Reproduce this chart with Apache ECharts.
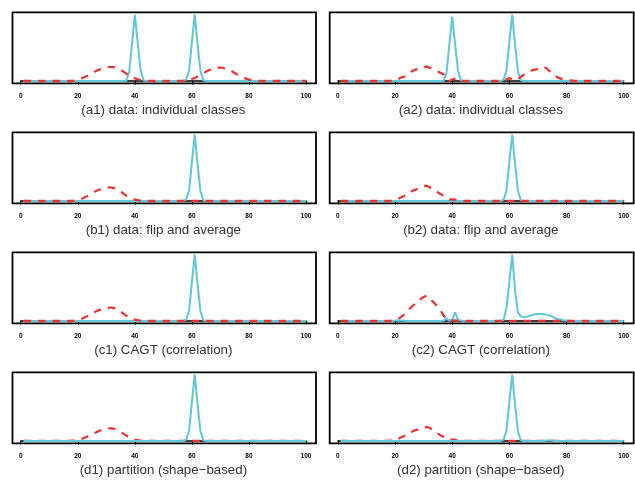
<!DOCTYPE html>
<html><head><meta charset="utf-8">
<script src="https://cdn.jsdelivr.net/npm/echarts@6/dist/echarts.min.js"></script>
<style>html,body{margin:0;padding:0;background:#fff}#c{width:635px;height:480px}</style>
</head><body><div id="c"></div>
<script>
const xTicks = [0, 20, 40, 60, 80, 100];
const titles = [
  '(a1) data: individual classes', '(a2) data: individual classes',
  '(b1) data: flip and average', '(b2) data: flip and average',
  '(c1) CAGT (correlation)', '(c2) CAGT (correlation)',
  '(d1) partition (shape\u2212based)', '(d2) partition (shape\u2212based)'
];

// cyan (solid) series, [x, value]
const a1Cyan = [[1,0],[37,0],[38,0.13],[39,0.55],[40,1],[41,0.58],[42,0.17],[43,0.01],[44,0],[57,0],[58,0.02],[59,0.15],[60,0.58],[61,1],[62,0.55],[63,0.15],[64,0.01],[65,0],[100,0]];
const a2Cyan = [[1,0],[37,0],[38,0.12],[39,0.55],[40,0.97],[41,0.56],[42,0.16],[43,0.01],[44,0],[57,0],[58,0.02],[59,0.16],[60,0.6],[61,1],[62,0.55],[63,0.14],[64,0.01],[65,0],[100,0]];
const b1Cyan = [[1,0],[57,0],[58,0.02],[59,0.15],[60,0.58],[61,1],[62,0.55],[63,0.15],[64,0.01],[65,0],[100,0]];
const b2Cyan = [[1,0],[57,0],[58,0.02],[59,0.16],[60,0.6],[61,1],[62,0.56],[63,0.15],[64,0.01],[65,0],[100,0]];
const c1Cyan = [[1,0],[57,0],[58,0.02],[59,0.15],[60,0.58],[61,1],[62,0.55],[63,0.15],[64,0.01],[65,0],[100,0]];
const c2Cyan = [[1,0],[19,0],[20,0.005],[21,0.01],[22,0.008],[23,0.004],[24,0],[36,0],[37,0.005],[38,0.035],[39,0.005],[40,0.02],[41,0.13],[42,0.02],[43,0.005],[44,0],[57,0],[58,0.02],[59,0.2],[60,0.6],[61,1],[62,0.45],[63,0.12],[64,0.07],[65,0.055],[66,0.06],[67,0.075],[68,0.09],[69,0.1],[70,0.105],[71,0.105],[72,0.1],[73,0.095],[74,0.085],[75,0.065],[76,0.04],[77,0.025],[78,0.02],[79,0.01],[80,0.005],[81,0],[100,0]];
const d1Cyan = [[1,0],[57,0],[58,0.02],[59,0.15],[60,0.58],[61,1],[62,0.55],[63,0.15],[64,0.01],[65,0],[100,0]];
const d2Cyan = [[1,0],[57,0],[58,0.02],[59,0.16],[60,0.6],[61,1],[62,0.55],[63,0.14],[64,0.01],[65,0],[72,0],[73,0.005],[74,0.01],[75,0.005],[76,0],[100,0]];

// red (dashed) series, [x, value]
const a1Red = [[1,0],[18,0],[19,0.005],[20,0.015],[21,0.03],[22,0.05],[23,0.07],[24,0.09],[25,0.12],[26,0.14],[27,0.16],[28,0.18],[29,0.195],[30,0.205],[31,0.21],[32,0.21],[33,0.205],[34,0.19],[35,0.17],[36,0.14],[37,0.11],[38,0.08],[39,0.06],[40,0.04],[41,0.025],[42,0.015],[43,0.008],[44,0.003],[45,0],[56,0],[57,0.003],[58,0.008],[59,0.015],[60,0.03],[61,0.045],[62,0.065],[63,0.09],[64,0.115],[65,0.14],[66,0.16],[67,0.18],[68,0.195],[69,0.2],[70,0.2],[71,0.195],[72,0.18],[73,0.165],[74,0.145],[75,0.12],[76,0.095],[77,0.07],[78,0.05],[79,0.035],[80,0.02],[81,0.012],[82,0.005],[83,0],[100,0]];
const a2Red = [[1,0],[19,0],[20,0.005],[21,0.02],[22,0.05],[23,0.06],[24,0.08],[25,0.11],[26,0.15],[27,0.17],[28,0.18],[29,0.2],[30,0.21],[31,0.215],[32,0.2],[33,0.18],[34,0.16],[35,0.14],[36,0.12],[37,0.1],[38,0.03],[39,0],[40,0.02],[41,0.03],[42,0.01],[43,0],[58,0],[59,0.02],[60,0.045],[61,0.02],[62,0.01],[63,0.03],[64,0.06],[65,0.09],[66,0.12],[67,0.14],[68,0.16],[69,0.17],[70,0.18],[71,0.2],[72,0.21],[73,0.19],[74,0.15],[75,0.11],[76,0.08],[77,0.05],[78,0.035],[79,0.025],[80,0.015],[81,0.01],[82,0.005],[83,0],[100,0]];
const b1Red = [[1,0],[18,0],[19,0.005],[20,0.012],[21,0.025],[22,0.045],[23,0.065],[24,0.09],[25,0.115],[26,0.14],[27,0.16],[28,0.175],[29,0.19],[30,0.2],[31,0.205],[32,0.2],[33,0.19],[34,0.17],[35,0.15],[36,0.11],[37,0.08],[38,0.055],[39,0.035],[40,0.02],[41,0.012],[42,0.006],[43,0.002],[44,0],[100,0]];
const b2Red = [[1,0],[19,0],[20,0.005],[21,0.03],[22,0.05],[23,0.07],[24,0.09],[25,0.12],[26,0.15],[27,0.17],[28,0.18],[29,0.2],[30,0.22],[31,0.23],[32,0.21],[33,0.18],[34,0.155],[35,0.13],[36,0.1],[37,0.08],[38,0.04],[39,0.02],[40,0.025],[41,0.02],[42,0.005],[43,0],[100,0]];
const c1Red = [[1,0],[18,0],[19,0.005],[20,0.012],[21,0.025],[22,0.045],[23,0.065],[24,0.085],[25,0.11],[26,0.135],[27,0.155],[28,0.17],[29,0.185],[30,0.195],[31,0.2],[32,0.2],[33,0.19],[34,0.17],[35,0.145],[36,0.11],[37,0.08],[38,0.055],[39,0.035],[40,0.02],[41,0.012],[42,0.006],[43,0.002],[44,0],[100,0]];
const c2Red = [[1,0],[18,0],[19,0.005],[20,0.01],[21,0.03],[22,0.055],[23,0.09],[24,0.13],[25,0.18],[26,0.22],[27,0.26],[28,0.3],[29,0.33],[30,0.36],[31,0.38],[32,0.35],[33,0.3],[34,0.26],[35,0.21],[36,0.15],[37,0.08],[38,0.03],[39,0.01],[40,0.005],[41,0.01],[42,0],[100,0]];
const d1Red = [[1,0],[17,0],[18,0.005],[19,0.008],[20,0.012],[21,0.025],[22,0.04],[23,0.06],[24,0.08],[25,0.1],[26,0.12],[27,0.14],[28,0.16],[29,0.175],[30,0.185],[31,0.19],[32,0.19],[33,0.18],[34,0.16],[35,0.135],[36,0.11],[37,0.08],[38,0.055],[39,0.035],[40,0.02],[41,0.012],[42,0.006],[43,0.002],[44,0],[100,0]];
const d2Red = [[1,0],[17,0],[18,0.005],[19,0.005],[20,0.01],[21,0.03],[22,0.05],[23,0.07],[24,0.09],[25,0.11],[26,0.14],[27,0.16],[28,0.17],[29,0.19],[30,0.2],[31,0.21],[32,0.2],[33,0.17],[34,0.14],[35,0.11],[36,0.08],[37,0.06],[38,0.03],[39,0.015],[40,0.02],[41,0.015],[42,0.005],[43,0],[100,0]];

const panels = [
  {cyan: a1Cyan, red: a1Red, redOnTop: true},
  {cyan: a2Cyan, red: a2Red, redOnTop: true},
  {cyan: b1Cyan, red: b1Red, redOnTop: true},
  {cyan: b2Cyan, red: b2Red, redOnTop: true},
  {cyan: c1Cyan, red: c1Red, redOnTop: true},
  {cyan: c2Cyan, red: c2Red, redOnTop: true},
  {cyan: d1Cyan, red: d1Red, redOnTop: false},
  {cyan: d2Cyan, red: d2Red, redOnTop: false}
];

const CYAN = '#5ec7da';
const RED = '#ee3232';
const colBox = [[12.5, 316], [329.7, 633.7]];
const grid = [], xAxis = [], yAxis = [], series = [], graphic = [];

panels.forEach((p, i) => {
  const row = Math.floor(i / 2), col = i % 2;
  const boxL = colBox[col][0], boxR = colBox[col][1];
  const boxT = 12.3 + 120 * row, boxB = 83.3 + 120 * row;
  const x0 = boxL + 8.2, x100 = boxR - 10;
  grid.push({left: x0, top: boxT, width: x100 - x0, height: boxB - boxT, containLabel: false});
  xAxis.push({
    gridIndex: i, type: 'value', min: 0, max: 100, interval: 20,
    axisLine: {show: true, lineStyle: {color: '#000', width: 1.5}},
    axisTick: {show: true, length: 3.5, lineStyle: {color: '#000', width: 1}},
    axisLabel: {fontSize: 6.5, fontWeight: 'bold', color: '#000', margin: 9.5,
      fontFamily: 'Liberation Sans, Arial, sans-serif',
      formatter: v => xTicks.indexOf(v) >= 0 ? String(v) : ''},
    splitLine: {show: false},
    name: titles[i], nameLocation: 'middle', nameGap: 20.5,
    nameTextStyle: {fontSize: 13.3, color: '#333', fontFamily: 'Liberation Sans, Arial, sans-serif'}
  });
  yAxis.push({gridIndex: i, type: 'value', min: -0.036, max: 1.034, show: false, splitLine: {show: false}});
  const cyanS = {type: 'line', xAxisIndex: i, yAxisIndex: i, data: p.cyan, symbol: 'none', clip: false,
    lineStyle: {color: CYAN, width: 2}, silent: true};
  const redS = {type: 'line', xAxisIndex: i, yAxisIndex: i, data: p.red, symbol: 'none', clip: false,
    lineStyle: {color: RED, width: 2.2, type: [7.5, 7]}, silent: true};
  if (p.redOnTop) { series.push(cyanS, redS); } else { series.push(redS, cyanS); }
  graphic.push({type: 'rect', shape: {x: boxL, y: boxT, width: boxR - boxL, height: boxB - boxT},
    style: {fill: 'none', stroke: '#000', lineWidth: 1.8}, z: 100, silent: true});
});

const chart = echarts.init(document.getElementById('c'), null, {renderer: 'canvas'});
chart.setOption({animation: false, backgroundColor: '#fff', grid, xAxis, yAxis, series, graphic});
</script></body></html>
